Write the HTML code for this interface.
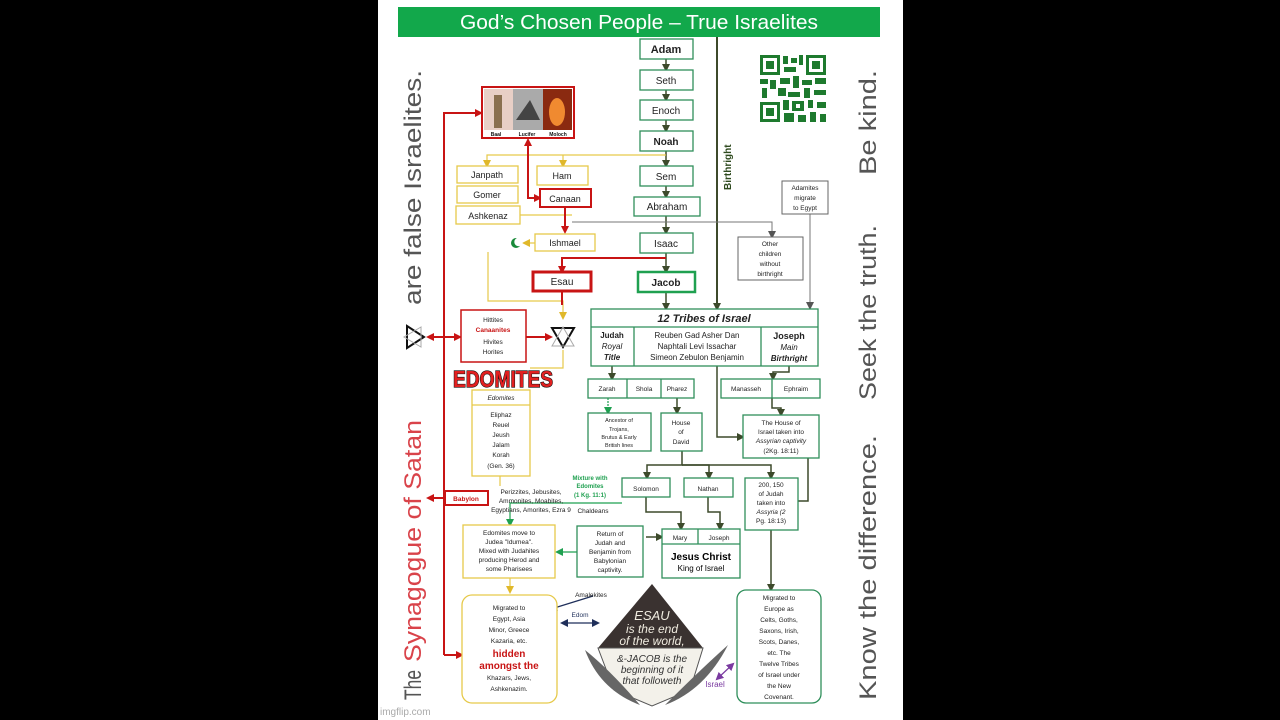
<!DOCTYPE html>
<html><head><meta charset="utf-8"><style>
html,body{margin:0;padding:0;background:#000;width:1280px;height:720px;overflow:hidden}
svg{display:block}
text{font-family:"Liberation Sans",sans-serif}
</style></head><body>
<svg width="1280" height="720" viewBox="0 0 1280 720" xmlns="http://www.w3.org/2000/svg">
<defs>
<marker id="ag" markerWidth="8" markerHeight="8" refX="6" refY="4" orient="auto" markerUnits="userSpaceOnUse"><path d="M0,0 L8,4 L0,8 z" fill="#3d4a2b"/></marker>
<marker id="ar" markerWidth="8" markerHeight="8" refX="6" refY="4" orient="auto" markerUnits="userSpaceOnUse"><path d="M0,0 L8,4 L0,8 z" fill="#c81414"/></marker>
<marker id="ars" markerWidth="8" markerHeight="8" refX="2" refY="4" orient="auto" markerUnits="userSpaceOnUse"><path d="M8,0 L0,4 L8,8 z" fill="#c81414"/></marker>
<marker id="ay" markerWidth="8" markerHeight="8" refX="6" refY="4" orient="auto" markerUnits="userSpaceOnUse"><path d="M0,0 L8,4 L0,8 z" fill="#e0b82a"/></marker>
<marker id="agr" markerWidth="8" markerHeight="8" refX="6" refY="4" orient="auto" markerUnits="userSpaceOnUse"><path d="M0,0 L8,4 L0,8 z" fill="#555"/></marker>
<marker id="ab" markerWidth="8" markerHeight="8" refX="6" refY="4" orient="auto" markerUnits="userSpaceOnUse"><path d="M0,0 L8,4 L0,8 z" fill="#1f2f5a"/></marker>
<marker id="abs" markerWidth="8" markerHeight="8" refX="2" refY="4" orient="auto" markerUnits="userSpaceOnUse"><path d="M8,0 L0,4 L8,8 z" fill="#1f2f5a"/></marker>
<marker id="ap" markerWidth="8" markerHeight="8" refX="6" refY="4" orient="auto" markerUnits="userSpaceOnUse"><path d="M0,0 L8,4 L0,8 z" fill="#7a3aa0"/></marker>
<marker id="aps" markerWidth="8" markerHeight="8" refX="2" refY="4" orient="auto" markerUnits="userSpaceOnUse"><path d="M8,0 L0,4 L8,8 z" fill="#7a3aa0"/></marker>
<marker id="agg" markerWidth="8" markerHeight="8" refX="6" refY="4" orient="auto" markerUnits="userSpaceOnUse"><path d="M0,0 L8,4 L0,8 z" fill="#1fa050"/></marker>
</defs>
<rect x="378" y="0" width="525" height="720" fill="#fff"/>
<rect x="398" y="7" width="482" height="30" fill="#12a84b"/>
<text x="460" y="29" font-size="20" fill="#fff" textLength="358" lengthAdjust="spacingAndGlyphs">God’s Chosen People – True Israelites</text>

<g font-size="24" fill="#555">
<text transform="translate(421,700) rotate(-90)" textLength="30" lengthAdjust="spacingAndGlyphs">The</text>
<text transform="translate(421,662) rotate(-90)" fill="#d9434a" textLength="242" lengthAdjust="spacingAndGlyphs">Synagogue of Satan</text>
<text transform="translate(421,305) rotate(-90)" textLength="235" lengthAdjust="spacingAndGlyphs">are false Israelites.</text>
<text transform="translate(876,700) rotate(-90)" textLength="265" lengthAdjust="spacingAndGlyphs">Know the difference.</text>
<text transform="translate(876,400) rotate(-90)" textLength="175" lengthAdjust="spacingAndGlyphs">Seek the truth.</text>
<text transform="translate(876,175) rotate(-90)" textLength="105" lengthAdjust="spacingAndGlyphs">Be kind.</text>
</g>
<g stroke-width="2" fill="none"><path d="M407,326 L424,337 L407,348 z" stroke="#111"/><path d="M421,327 L404,337 L421,347 z" stroke="#aaa" stroke-width="1"/></g>

<g stroke="#3d4a2b" stroke-width="1.5" fill="none" marker-end="url(#ag)">
<line x1="666" y1="59" x2="666" y2="70"/>
<line x1="666" y1="90" x2="666" y2="100"/>
<line x1="666" y1="120" x2="666" y2="131"/>
<line x1="666" y1="151" x2="666" y2="166"/>
<line x1="666" y1="186" x2="666" y2="197"/>
<line x1="666" y1="216" x2="666" y2="233"/>
<line x1="666" y1="253" x2="666" y2="272"/>
<line x1="666" y1="292" x2="666" y2="309"/>
<line x1="717" y1="37" x2="717" y2="309" stroke-width="2"/>
<line x1="612" y1="366" x2="612" y2="379"/>
<polyline points="789,366 789,372 773,372 773,379"/>
<polyline points="677,398 677,413"/>
<polyline points="772,398 772,408 781,408 781,415"/>
<polyline points="717,366 717,437 743,437"/>
<polyline points="682,451 682,465 647,465 647,478"/>
<polyline points="682,465 709,465 709,478"/>
<polyline points="682,465 771,465 771,478"/>
<polyline points="646,497 646,512 681,512 681,529"/>
<polyline points="708,497 708,512 720,512 720,529"/>
<polyline points="646,537 662,537"/>
<polyline points="808,458 808,501 784,501"/>
<polyline points="771,530 771,590"/>
</g>
<text transform="translate(731,190) rotate(-90)" font-size="10" font-weight="bold" fill="#2e4a1e">Birthright</text>

<g stroke="#e6c94a" stroke-width="1.2" fill="none">
<polyline points="666,155 487,155 487,166" marker-end="url(#ay)"/>
<polyline points="563,155 563,166" marker-end="url(#ay)"/>
<polyline points="595,243 524,243" marker-end="url(#ay)"/>
<polyline points="488,252 488,301 563,301 563,318" marker-end="url(#ay)"/>
<polyline points="520,215 572,215"/>
<polyline points="563,350 563,368 530,368"/>
<polyline points="510,578 510,592" marker-end="url(#ay)"/>
<polyline points="500,476 500,486"/>
</g>
<g stroke="#777" stroke-width="1" fill="none">
<polyline points="572,222 772,222 772,237" marker-end="url(#agr)"/>
<polyline points="810,214 810,308" marker-end="url(#agr)"/>
</g>
<g stroke="#c81414" stroke-width="2" fill="none">
<polyline points="444,655 444,113 481,113" marker-end="url(#ar)"/>
<polyline points="528,140 528,198 540,198" marker-end="url(#ar)" marker-start="url(#ars)"/>
<polyline points="565,207 565,232" marker-end="url(#ar)"/>
<polyline points="666,258 562,258 562,272" marker-end="url(#ar)"/>
<polyline points="562,291 562,305"/>
<polyline points="444,337 460,337" marker-end="url(#ar)"/>
<polyline points="444,337 428,337" marker-end="url(#ar)"/>
<polyline points="526,337 551,337" marker-end="url(#ar)"/>
<polyline points="444,498 428,498" marker-end="url(#ar)"/>
<polyline points="444,655 462,655" marker-end="url(#ar)"/>
</g>
<g stroke="#1fa050" stroke-width="1.2" fill="none">
<polyline points="608,398 608,413" marker-end="url(#agg)" stroke-dasharray="2,1"/>
<polyline points="622,503 510,503 510,525" marker-end="url(#agg)"/>
<polyline points="577,552 557,552" marker-end="url(#agg)"/>
</g>
<g stroke="#1f2f5a" stroke-width="1.2" fill="none">
<line x1="562" y1="623" x2="598" y2="623" marker-end="url(#ab)" marker-start="url(#abs)"/>
<line x1="593" y1="596" x2="551" y2="609" marker-end="url(#ab)"/>
</g>
<line x1="717" y1="679" x2="733" y2="664" stroke="#7a3aa0" stroke-width="1.2" marker-end="url(#ap)" marker-start="url(#aps)"/>

<g fill="#fff" stroke="#2f8f5b" stroke-width="1.3">
<rect x="640" y="39" width="53" height="20"/>
<rect x="640" y="70" width="53" height="20"/>
<rect x="640" y="100" width="53" height="20"/>
<rect x="640" y="131" width="53" height="20"/>
<rect x="640" y="166" width="53" height="20"/>
<rect x="634" y="197" width="66" height="19"/>
<rect x="640" y="233" width="53" height="20"/>
<rect x="638" y="272" width="57" height="20" stroke-width="2.5" stroke="#1fa050"/>
<rect x="591" y="309" width="227" height="57"/>
<line x1="591" y1="327" x2="818" y2="327"/>
<line x1="634" y1="327" x2="634" y2="366"/>
<line x1="761" y1="327" x2="761" y2="366"/>
<rect x="588" y="379" width="106" height="19"/>
<line x1="627" y1="379" x2="627" y2="398"/><line x1="661" y1="379" x2="661" y2="398"/>
<rect x="721" y="379" width="99" height="19"/>
<line x1="772" y1="379" x2="772" y2="398"/>
<rect x="588" y="413" width="63" height="38"/>
<rect x="661" y="413" width="41" height="38"/>
<rect x="743" y="415" width="76" height="43"/>
<rect x="622" y="478" width="48" height="19"/>
<rect x="684" y="478" width="49" height="19"/>
<rect x="745" y="478" width="53" height="52"/>
<rect x="577" y="526" width="66" height="51"/>
<rect x="662" y="529" width="78" height="49"/>
<line x1="662" y1="544" x2="740" y2="544"/><line x1="698" y1="529" x2="698" y2="544"/>
<rect x="737" y="590" width="84" height="113" rx="9"/>
</g>
<g fill="#fff" stroke="#666" stroke-width="1">
<rect x="782" y="181" width="46" height="33"/>
<rect x="738" y="237" width="65" height="43"/>
</g>
<g fill="#fff" stroke="#e6c94a" stroke-width="1.3">
<rect x="457" y="166" width="61" height="17"/>
<rect x="457" y="186" width="61" height="17"/>
<rect x="456" y="206" width="64" height="18"/>
<rect x="537" y="166" width="51" height="19"/>
<rect x="535" y="234" width="60" height="17"/>
<rect x="472" y="390" width="58" height="86"/>
<line x1="472" y1="405" x2="530" y2="405"/>
<rect x="463" y="525" width="92" height="53"/>
<rect x="462" y="595" width="95" height="108" rx="10"/>
</g>
<g fill="#fff" stroke="#c81414">
<rect x="540" y="189" width="51" height="18" stroke-width="2"/>
<rect x="533" y="272" width="58" height="19" stroke-width="3"/>
<rect x="461" y="310" width="65" height="52" stroke-width="1.5"/>
<rect x="445" y="491" width="43" height="14" stroke-width="2"/>
<rect x="482" y="87" width="92" height="51" stroke-width="2"/>
</g>
<rect x="484" y="89" width="29" height="41" fill="#e8cfc6"/>
<rect x="494" y="95" width="8" height="33" fill="#8a7050"/>
<rect x="513" y="89" width="30" height="41" fill="#aaa"/>
<path d="M516,120 L530,100 L540,120 z" fill="#444"/>
<rect x="543" y="89" width="29" height="41" fill="#8a2a10"/>
<ellipse cx="557" cy="112" rx="8" ry="14" fill="#f08a30"/>
<g font-size="5" font-weight="bold" fill="#111" text-anchor="middle"><text x="496" y="136">Baal</text><text x="527" y="136">Lucifer</text><text x="558" y="136">Moloch</text></g>

<g fill="#1e7a2e">
<rect x="760" y="55" width="20" height="20"/><rect x="763" y="58" width="14" height="14" fill="#fff"/><rect x="766" y="61" width="8" height="8"/>
<rect x="806" y="55" width="20" height="20"/><rect x="809" y="58" width="14" height="14" fill="#fff"/><rect x="812" y="61" width="8" height="8"/>
<rect x="760" y="102" width="20" height="20"/><rect x="763" y="105" width="14" height="14" fill="#fff"/><rect x="766" y="108" width="8" height="8"/>
<rect x="783" y="56" width="5" height="8"/><rect x="791" y="58" width="6" height="5"/><rect x="799" y="55" width="4" height="10"/><rect x="784" y="67" width="12" height="5"/>
<rect x="760" y="79" width="8" height="5"/><rect x="770" y="80" width="6" height="9"/><rect x="780" y="78" width="10" height="6"/><rect x="793" y="76" width="6" height="12"/><rect x="802" y="80" width="10" height="5"/><rect x="815" y="78" width="11" height="6"/>
<rect x="762" y="88" width="5" height="10"/><rect x="778" y="88" width="8" height="8"/><rect x="788" y="92" width="12" height="5"/><rect x="804" y="88" width="6" height="10"/><rect x="814" y="90" width="12" height="5"/>
<rect x="783" y="100" width="6" height="10"/><rect x="792" y="101" width="12" height="10"/><rect x="796" y="104" width="4" height="4" fill="#fff"/><rect x="808" y="100" width="5" height="8"/><rect x="817" y="102" width="9" height="6"/>
<rect x="784" y="113" width="10" height="9"/><rect x="798" y="115" width="8" height="7"/><rect x="810" y="112" width="6" height="10"/><rect x="820" y="114" width="6" height="8"/>
</g>

<path d="M652,584 L703,648 L598,648 z" fill="#3a3230"/>
<path d="M598,648 L703,648 L690,690 L652,706 L614,690 z" fill="#f3f1ea" stroke="#555"/>
<path d="M585,650 Q600,690 640,705 Q610,670 585,650 z" fill="#666"/>
<path d="M728,645 Q705,690 665,705 Q700,670 728,645 z" fill="#666"/>
<g text-anchor="middle" font-family="Liberation Serif,serif" font-style="italic">
<text x="652" y="620" font-size="13" fill="#f0ece0">ESAU</text>
<text x="652" y="633" font-size="12" fill="#f0ece0">is the end</text>
<text x="652" y="645" font-size="12" fill="#f0ece0">of the world,</text>
<text x="652" y="662" font-size="10" fill="#333">&amp;-JACOB is the</text>
<text x="652" y="673" font-size="10" fill="#333">beginning of it</text>
<text x="652" y="684" font-size="10" fill="#333">that followeth</text>
</g>

<g font-size="9" fill="#222" text-anchor="middle">
<text x="666" y="53" font-weight="bold" font-size="11">Adam</text>
<text x="666" y="84" font-size="10">Seth</text>
<text x="666" y="114" font-size="10">Enoch</text>
<text x="666" y="145" font-weight="bold" font-size="10">Noah</text>
<text x="666" y="180" font-size="10">Sem</text>
<text x="667" y="210" font-size="10">Abraham</text>
<text x="666" y="247" font-size="10">Isaac</text>
<text x="666" y="286" font-weight="bold" font-size="10">Jacob</text>
<text x="487" y="178">Janpath</text><text x="487" y="198">Gomer</text><text x="488" y="219">Ashkenaz</text>
<text x="562" y="179">Ham</text><text x="565" y="202">Canaan</text>
<text x="565" y="246">Ishmael</text><text x="562" y="285" font-size="10">Esau</text>
<text x="704" y="322" font-size="11" font-weight="bold" font-style="italic">12 Tribes of Israel</text>
<text x="612" y="338" font-size="8" font-weight="bold">Judah</text>
<text x="612" y="349" font-size="8" font-style="italic">Royal</text>
<text x="612" y="360" font-size="8" font-style="italic" font-weight="bold">Title</text>
<text x="697" y="338" font-size="8">Reuben  Gad  Asher  Dan</text>
<text x="697" y="349" font-size="8">Naphtali   Levi   Issachar</text>
<text x="697" y="360" font-size="8">Simeon  Zebulon  Benjamin</text>
<text x="789" y="339" font-size="9" font-weight="bold">Joseph</text>
<text x="789" y="350" font-size="8" font-style="italic">Main</text>
<text x="789" y="361" font-size="8" font-style="italic" font-weight="bold">Birthright</text>
<g font-size="6.5"><text x="607" y="391">Zarah</text><text x="644" y="391">Shola</text><text x="677" y="391">Pharez</text>
<text x="746" y="391">Manasseh</text><text x="796" y="391">Ephraim</text>
<text x="619" y="422" font-size="5.5">Ancestor of</text><text x="619" y="431" font-size="5.5">Trojans,</text><text x="619" y="439" font-size="5.5">Brutus &amp; Early</text><text x="619" y="447" font-size="5.5">British lines</text>
<text x="681" y="425">House</text><text x="681" y="434">of</text><text x="681" y="444">David</text>
<text x="781" y="425">The House of</text><text x="781" y="434">Israel taken into</text><text x="781" y="443" font-style="italic">Assyrian captivity</text><text x="781" y="453">(2Kg.  18:11)</text>
<text x="646" y="491">Solomon</text><text x="708" y="491">Nathan</text>
<text x="771" y="487">200, 150</text><text x="771" y="496">of Judah</text><text x="771" y="505">taken into</text><text x="771" y="514" font-style="italic">Assyria (2</text><text x="771" y="523">Pg. 18:13)</text>
<text x="610" y="536">Return of</text><text x="610" y="545">Judah and</text><text x="610" y="554">Benjamin from</text><text x="610" y="563">Babylonian</text><text x="610" y="572">captivity.</text>
<text x="680" y="540">Mary</text><text x="719" y="540">Joseph</text>
<text x="805" y="190">Adamites</text><text x="805" y="200">migrate</text><text x="805" y="210">to Egypt</text>
<text x="770" y="246">Other</text><text x="770" y="256">children</text><text x="770" y="266">without</text><text x="770" y="276">birthright</text>
<text x="493" y="322">Hittites</text><text x="493" y="332" fill="#c81414" font-weight="bold">Canaanites</text><text x="493" y="344">Hivites</text><text x="493" y="354">Horites</text>
<text x="501" y="400" font-style="italic">Edomites</text>
<text x="501" y="417">Eliphaz</text><text x="501" y="427">Reuel</text><text x="501" y="437">Jeush</text><text x="501" y="447">Jalam</text><text x="501" y="457">Korah</text><text x="501" y="468">(Gen. 36)</text>
<text x="466" y="501" fill="#c81414" font-weight="bold">Babylon</text>
<text x="531" y="494">Perizzites, Jebusites,</text><text x="531" y="503">Ammonites, Moabites,</text><text x="531" y="512">Egyptians, Amorites, Ezra 9</text>
<text x="593" y="513">Chaldeans</text>
<text x="590" y="480" fill="#1fa050" font-weight="bold" font-size="6">Mixture with</text><text x="590" y="488" fill="#1fa050" font-weight="bold" font-size="6">Edomites</text><text x="590" y="497" fill="#1fa050" font-weight="bold" font-size="6">(1 Kg. 11:1)</text>
<text x="509" y="535">Edomites move to</text><text x="509" y="544">Judea "Idumea".</text><text x="509" y="553">Mixed with Judahites</text><text x="509" y="562">producing Herod and</text><text x="509" y="571">some Pharisees</text>
<text x="779" y="600">Migrated to</text><text x="779" y="611">Europe as</text><text x="779" y="622">Celts, Goths,</text><text x="779" y="633">Saxons, Irish,</text><text x="779" y="644">Scots, Danes,</text><text x="779" y="655">etc. The</text><text x="779" y="666">Twelve Tribes</text><text x="779" y="677">of Israel under</text><text x="779" y="688">the New</text><text x="779" y="699">Covenant.</text>
<text x="509" y="610">Migrated to</text><text x="509" y="621">Egypt, Asia</text><text x="509" y="632">Minor, Greece</text><text x="509" y="643">Kazaria, etc.</text>
<text x="509" y="680">Khazars, Jews,</text><text x="509" y="691">Ashkenazim.</text>
<text x="591" y="597">Amalekites</text><text x="580" y="617" fill="#1f2f5a">Edom</text>
</g>
</g>
<text x="509" y="657" font-size="10" font-weight="bold" fill="#c81414" text-anchor="middle">hidden</text>
<text x="509" y="669" font-size="10" font-weight="bold" fill="#c81414" text-anchor="middle">amongst  the</text>
<text x="715" y="687" font-size="8" fill="#7a3aa0" text-anchor="middle">Israel</text>
<text x="701" y="560" font-size="10" font-weight="bold" text-anchor="middle">Jesus Christ</text>
<text x="701" y="571" font-size="8" text-anchor="middle">King of Israel</text>
<circle cx="516" cy="243" r="5" fill="#1a8a3a"/><circle cx="518.5" cy="242" r="4.2" fill="#fff"/>
<g fill="none" stroke-width="2"><path d="M552,328 L574,328 L563,347 z" stroke="#111"/><path d="M552,346 L574,346 L563,327 z" stroke="#aaa" stroke-width="1"/></g>
<text x="503" y="387" font-size="23" font-weight="bold" fill="#e22020" stroke="#111" stroke-width="1.2" text-anchor="middle" textLength="100" lengthAdjust="spacingAndGlyphs" paint-order="stroke">EDOMITES</text>
<text x="380" y="715" font-size="10" fill="#aaa" text-anchor="start">imgflip.com</text>
</svg>
</body></html>
